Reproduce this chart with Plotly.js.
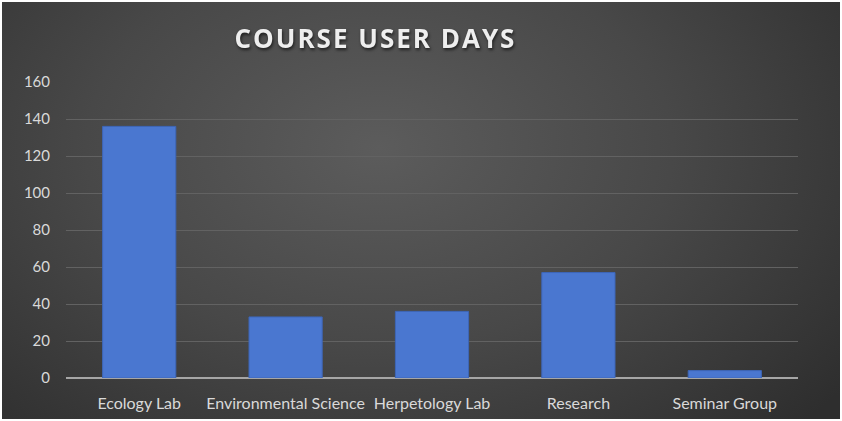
<!DOCTYPE html>
<html>
<head>
<meta charset="utf-8">
<script src="https://cdn.plot.ly/plotly-3.0.1.min.js"></script>
<style>
html,body{margin:0;padding:0;background:#fff;}
#wrap{position:absolute;left:2px;top:2px;width:838px;height:417px;
 background:radial-gradient(ellipse 70% 95% at 45% 35%, #5c5c5c 0%, #484848 50%, #2e2e2e 100%);}
#chart{position:absolute;left:0;top:0;width:842px;height:421px;}
#chart .gtitle{letter-spacing:2px;filter:drop-shadow(1px 2px 1.5px rgba(0,0,0,0.6));}
</style>
</head>
<body>
<div id="wrap"></div>
<div id="chart"></div>
<script>
var categories = ["Ecology Lab", "Environmental Science", "Herpetology Lab", "Research", "Seminar Group"];
var userDays = [136, 33, 36, 57, 4];
var yTicks = [0, 20, 40, 60, 80, 100, 120, 140, 160];

var trace = {
  type: 'bar',
  x: categories,
  y: userDays,
  width: 0.5,
  marker: {color: '#4a77d0', line: {color: '#3d66b8', width: 1}},
  hoverinfo: 'x+y'
};

var layout = {
  width: 842, height: 421,
  paper_bgcolor: 'rgba(0,0,0,0)',
  plot_bgcolor: 'rgba(0,0,0,0)',
  margin: {l: 66, r: 44, t: 82, b: 43},
  showlegend: false,
  title: {
    text: '<b>COURSE USER DAYS</b>',
    x: 356/842, xanchor: 'center', xref: 'paper',
    y: 1 - 38.5/421, yanchor: 'middle', yref: 'container',
    font: {family: 'Open Sans, sans-serif', size: 26, color: '#eeeeee'}
  },
  xaxis: {
    type: 'category',
    showgrid: false,
    showline: false,
    zeroline: false,
    ticks: '',
    ticklabelstandoff: 14,
    tickfont: {family: 'Lato, sans-serif', size: 16, color: '#d9d9d9'}
  },
  yaxis: {
    range: [0, 160],
    tickvals: yTicks,
    ticktext: yTicks.map(String),
    showgrid: true,
    gridcolor: '#626262',
    gridwidth: 1,
    zeroline: true,
    zerolinecolor: '#a6a6a6',
    zerolinewidth: 2,
    showline: false,
    ticks: '',
    ticklabelstandoff: 15,
    tickfont: {family: 'Lato, sans-serif', size: 15, color: '#d9d9d9'}
  }
};

Plotly.newPlot('chart', [trace], layout, {displayModeBar: false, staticPlot: true});
</script>
</body>
</html>
